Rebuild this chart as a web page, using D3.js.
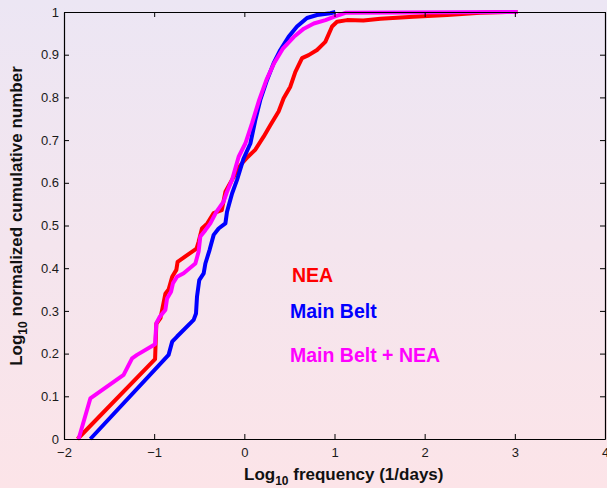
<!DOCTYPE html>
<html>
<head>
<meta charset="utf-8">
<script src="https://cdn.jsdelivr.net/npm/d3@7"></script>
<style>
  body { margin: 0; padding: 0; }
  svg { display: block; font-family: "Liberation Sans", Arial, sans-serif; }
</style>
</head>
<body>
<script>
// cumulative curves, x = log10 frequency, y = normalized cumulative number
var neaX = [-1.85, -0.99, -0.976, -0.93, -0.876, -0.84, -0.80, -0.754, -0.74, -0.53, -0.507, -0.47, -0.41, -0.34, -0.25, -0.21, -0.136,
            -0.08, -0.03, 0.04, 0.12, 0.214, 0.288, 0.38, 0.436, 0.51, 0.566, 0.64, 0.713, 0.806, 0.898, 0.973, 1.028, 1.139, 1.32, 1.51, 1.874, 2.25, 2.617, 2.91, 3.03];
var neaY = [0, 0.187, 0.27, 0.283, 0.34, 0.35, 0.38, 0.396, 0.415, 0.446, 0.462, 0.493, 0.505, 0.529, 0.536, 0.579, 0.607,
            0.63, 0.645, 0.661, 0.677, 0.708, 0.735, 0.767, 0.798, 0.825, 0.86, 0.892, 0.899, 0.911, 0.93, 0.966, 0.977, 0.981, 0.98, 0.984, 0.989, 0.993, 0.998, 1, 1];

var mbX = [-1.708, -0.84, -0.80, -0.746, -0.562, -0.536, -0.525, -0.50, -0.451, -0.432, -0.385, -0.34, -0.285, -0.21, -0.192, -0.136, -0.081,
           -0.008, 0.067, 0.122, 0.177, 0.252, 0.325, 0.399, 0.491, 0.584, 0.695, 0.806, 0.954, 1.01];
var mbY = [0, 0.197, 0.228, 0.24, 0.279, 0.294, 0.333, 0.372, 0.388, 0.411, 0.443, 0.478, 0.493, 0.505, 0.532, 0.575, 0.607,
           0.657, 0.692, 0.747, 0.794, 0.841, 0.88, 0.911, 0.942, 0.966, 0.986, 0.993, 0.997, 1];

var allX = [-1.838, -1.708, -1.339, -1.245, -1.19, -0.99, -0.976, -0.939, -0.876, -0.857, -0.813, -0.791, -0.746, -0.673, -0.543, -0.507, -0.488,
            -0.432, -0.377, -0.31, -0.23, -0.192, -0.136, -0.063, 0.011, 0.085, 0.165, 0.245, 0.33, 0.43, 0.55, 0.66, 0.77, 0.9, 1.0, 1.12, 3.03];
var allY = [0, 0.095, 0.15, 0.189, 0.197, 0.222, 0.271, 0.286, 0.302, 0.329, 0.345, 0.365, 0.38, 0.388, 0.411, 0.439, 0.474,
            0.489, 0.505, 0.532, 0.556, 0.579, 0.607, 0.661, 0.692, 0.739, 0.794, 0.841, 0.88, 0.915, 0.942, 0.961, 0.973, 0.981, 0.989, 0.998, 1];

var seriesNames = ["NEA", "Main Belt", "Main Belt + NEA"];
var seriesColors = ["#ff0000", "#0000ff", "#ff00ff"];

var xTicks = [-2, -1, 0, 1, 2, 3, 4];
var yTicks = [0, 0.1, 0.2, 0.3, 0.4, 0.5, 0.6, 0.7, 0.8, 0.9, 1];

var W = 607, H = 488;
var box = {left: 64, right: 605, top: 12, bottom: 439};

var svg = d3.select("body").append("svg")
    .attr("width", W)
    .attr("height", H);

var grad = svg.append("defs").append("linearGradient")
    .attr("id", "bg").attr("x1", 0).attr("y1", 0).attr("x2", 0).attr("y2", 1);
grad.append("stop").attr("offset", "0%").attr("stop-color", "#ece6f4");
grad.append("stop").attr("offset", "100%").attr("stop-color", "#fce4e8");

svg.append("rect").attr("width", W).attr("height", H).attr("fill", "url(#bg)");

var x = d3.scaleLinear().domain([-2, 4]).range([box.left, box.right]);
var y = d3.scaleLinear().domain([0, 1]).range([box.bottom, box.top]);

// curves
var line = d3.line().x(function(d) { return x(d[0]); }).y(function(d) { return y(d[1]); });
var curves = [d3.zip(neaX, neaY), d3.zip(mbX, mbY), d3.zip(allX, allY)];

svg.selectAll("path.curve")
    .data(curves)
    .enter().append("path")
    .attr("class", "curve")
    .attr("d", line)
    .attr("fill", "none")
    .attr("stroke", function(d, i) { return seriesColors[i]; })
    .attr("stroke-width", 4)
    .attr("stroke-linejoin", "round");

// axes, ticks pointing inward like matlab
function styleAxis(g) {
  g.selectAll("path").attr("stroke", "#000").attr("stroke-width", 1.2);
  g.selectAll("line").attr("stroke", "#000");
  g.selectAll("text").attr("fill", "#1a1a1a").style("font-size", "13px");
}

var fmt = d3.format("~g");

svg.append("g")
    .attr("transform", "translate(0," + box.bottom + ")")
    .call(d3.axisBottom(x).tickValues(xTicks).tickSizeInner(-5).tickSizeOuter(0).tickPadding(9).tickFormat(fmt))
    .call(styleAxis);

svg.append("g")
    .attr("transform", "translate(0," + box.top + ")")
    .call(d3.axisTop(x).tickValues(xTicks).tickSizeInner(-5).tickSizeOuter(0).tickFormat(""))
    .call(styleAxis);

svg.append("g")
    .attr("transform", "translate(" + box.left + ",0)")
    .call(d3.axisLeft(y).tickValues(yTicks).tickSizeInner(-5).tickSizeOuter(0).tickPadding(5).tickFormat(fmt))
    .call(styleAxis);

svg.append("g")
    .attr("transform", "translate(" + box.right + ",0)")
    .call(d3.axisRight(y).tickValues(yTicks).tickSizeInner(-5).tickSizeOuter(0).tickFormat(""))
    .call(styleAxis);

// axis titles
var xl = svg.append("text")
    .attr("x", 244).attr("y", 480)
    .style("font-size", "17px").style("font-weight", "bold").attr("fill", "#111");
xl.append("tspan").text("Log");
xl.append("tspan").attr("dy", 5).style("font-size", "12px").text("10");
xl.append("tspan").attr("dy", -5).text(" frequency (1/days)");

var yl = svg.append("text")
    .attr("transform", "translate(22,216) rotate(-90)")
    .attr("text-anchor", "middle")
    .style("font-size", "17px").style("font-weight", "bold").attr("fill", "#111");
yl.append("tspan").text("Log");
yl.append("tspan").attr("dy", 5).style("font-size", "12px").text("10");
yl.append("tspan").attr("dy", -5).text(" normalized cumulative number");

// legend labels written inside the axes
var labelPos = [[292, 282], [290, 318], [290, 362]];
svg.selectAll("text.lab")
    .data(seriesNames)
    .enter().append("text")
    .attr("class", "lab")
    .attr("x", function(d, i) { return labelPos[i][0]; })
    .attr("y", function(d, i) { return labelPos[i][1]; })
    .attr("fill", function(d, i) { return seriesColors[i]; })
    .style("font-size", "19.5px").style("font-weight", "bold")
    .text(function(d) { return d; });
</script>
</body>
</html>
